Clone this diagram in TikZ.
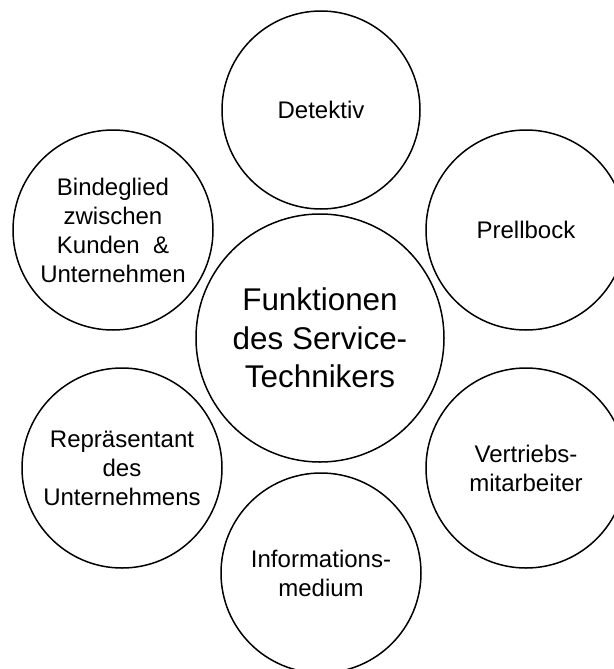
\documentclass[tikz,border=0pt]{standalone}
\usepackage{fontspec}
\setmainfont{Liberation Sans}
\begin{document}
\begin{tikzpicture}[x=0.5pt,y=-0.5pt,
  bubble/.style={draw=black, line width=0.75pt, circle, inner sep=0pt, minimum size=100pt,
    align=center, font=\fontsize{12pt}{14.5pt}\selectfont},
  hub/.style={bubble, minimum size=124pt, font=\fontsize{15.7pt}{19.3pt}\selectfont}]
\useasboundingbox (0,0) rectangle (614,669);
\node[hub] (center) at (320,338) {Funktionen\\des Service-\\Technikers};
\node[bubble, minimum size=99pt] (detektiv) at (321,110) {Detektiv};
\node[bubble] (bindeglied) at (113,230) {Bindeglied\\zwischen\\Kunden\ \ \&\\Unternehmen};
\node[bubble] (prellbock) at (526,230) {Prellbock};
\node[bubble] (repraesentant) at (122,468) {Repräsentant\\des\\Unternehmens};
\node[bubble] (vertrieb) at (526,468) {Vertriebs-\\mitarbeiter};
\node[bubble] (info) at (321,573) {Informations-\\medium};
\end{tikzpicture}
\end{document}
